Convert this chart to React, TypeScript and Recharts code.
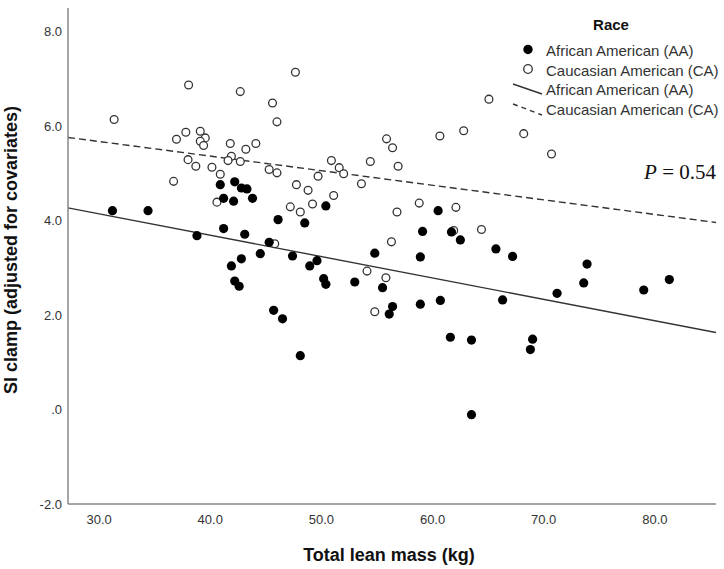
import React from "react";
import {
    ScatterChart,
    Scatter,
    XAxis,
    YAxis,
    ReferenceLine,
} from "recharts";

// Total lean mass (kg) / SI clamp for African American participants
const aaLeanMass = [
    40.9, 42.2, 42.8, 43.3, 41.2, 42.1, 43.8, 31.2, 34.4, 46.1,
    41.2, 43.1, 38.8, 45.3, 44.5, 42.8, 41.9, 42.2, 42.6, 45.7,
    46.5, 50.4, 48.5, 60.5, 59.1, 61.7, 62.5, 65.7, 54.8, 58.9,
    47.4, 67.2, 49.6, 48.95, 50.2, 50.4, 53.0, 55.5, 56.4, 56.1,
    58.9, 60.7, 48.1, 61.6, 63.5, 63.5, 73.9, 73.6, 71.2, 66.3,
    79.0, 81.3, 69.0, 68.8,
];
const aaClamp = [
    4.76, 4.82, 4.69, 4.67, 4.47, 4.41, 4.47, 4.21, 4.21, 4.02,
    3.83, 3.71, 3.68, 3.54, 3.30, 3.19, 3.04, 2.72, 2.61, 2.10,
    1.92, 4.31, 3.95, 4.21, 3.77, 3.76, 3.59, 3.40, 3.31, 3.23,
    3.25, 3.24, 3.15, 3.04, 2.77, 2.65, 2.70, 2.58, 2.18, 2.02,
    2.23, 2.31, 1.14, 1.53, 1.47, -0.11, 3.08, 2.68, 2.46, 2.32,
    2.53, 2.75, 1.49, 1.27,
];

// same for Caucasian American participants
const caLeanMass = [
    31.35, 38.05, 42.7, 45.6, 46.0, 37.8, 39.1, 36.96, 39.55, 39.1,
    39.4, 41.8, 44.1, 43.2, 41.9, 41.6, 42.7, 38.0, 38.7, 40.15,
    45.3, 46.0, 40.9, 36.7, 40.6, 47.2, 45.8, 47.66, 65.07, 62.8,
    60.66, 55.86, 56.4, 50.9, 54.4, 51.6, 52.0, 56.9, 49.7, 53.6,
    47.75, 48.8, 51.1, 49.2, 48.1, 58.8, 62.1, 56.8, 64.4, 61.9,
    56.3, 68.2, 70.7, 54.1, 55.8, 54.8,
];
const caClamp = [
    6.14, 6.87, 6.73, 6.49, 6.09, 5.87, 5.89, 5.72, 5.75, 5.68,
    5.59, 5.63, 5.63, 5.51, 5.36, 5.27, 5.25, 5.29, 5.15, 5.13,
    5.08, 5.01, 4.98, 4.83, 4.39, 4.29, 3.51, 7.14, 6.57, 5.90,
    5.79, 5.73, 5.54, 5.27, 5.25, 5.12, 4.99, 5.15, 4.94, 4.78,
    4.76, 4.64, 4.53, 4.35, 4.18, 4.37, 4.28, 4.18, 3.81, 3.79,
    3.55, 5.84, 5.41, 2.93, 2.79, 2.07,
];

// fit line end points (x at the axis edges)
const fitX = [27.2, 85.5];
const aaFitY = [4.27, 1.63];
const caFitY = [5.76, 3.96];

const xTicks = [30, 40, 50, 60, 70, 80];
const yTicks = [-2, 0, 2, 4, 6, 8];

const legendLabels = [
    "African American (AA)",
    "Caucasian American (CA)",
    "African American (AA)",
    "Caucasian American (CA)",
];

const toPoints = (xs: number[], ys: number[]) => xs.map((x, i) => ({ x, y: ys[i] }));

const aaData = toPoints(aaLeanMass, aaClamp);
const caData = toPoints(caLeanMass, caClamp);
const aaFit = toPoints(fitX, aaFitY);
const caFit = toPoints(fitX, caFitY);

const FONT = '"Liberation Sans", Arial, sans-serif';

const FilledDot = (props: any) => (
    <circle cx={props.cx} cy={props.cy} r={4.6} fill="#000" />
);

const OpenDot = (props: any) => (
    <circle cx={props.cx} cy={props.cy} r={3.9} fill="#fff" stroke="#333" strokeWidth={1.3} />
);

const fmtTick = (v: number) => (v === 0 ? ".0" : v.toFixed(1));

export default function App() {
    return (
        <div style={{ position: "absolute", left: 0, top: 0, width: 724, height: 569, background: "#fff" }}>
            <ScatterChart width={724} height={569} margin={{ top: 8, right: 8, bottom: 0, left: 0 }}>
                <XAxis
                    type="number"
                    dataKey="x"
                    domain={[27.2, 85.5]}
                    ticks={xTicks}
                    tickFormatter={fmtTick}
                    allowDataOverflow
                    height={65}
                    axisLine={{ stroke: "#888", strokeWidth: 1.5 }}
                    tickLine={false}
                    tickSize={6}
                    tickMargin={5}
                    tick={{ fill: "#333", fontSize: 13, fontFamily: FONT }}
                />
                <YAxis
                    type="number"
                    dataKey="y"
                    domain={[-2, 8.5]}
                    ticks={yTicks}
                    tickFormatter={fmtTick}
                    allowDataOverflow
                    width={68}
                    axisLine={{ stroke: "#888", strokeWidth: 1.5 }}
                    tickLine={false}
                    tickSize={4}
                    tickMargin={2}
                    tick={{ fill: "#333", fontSize: 13, fontFamily: FONT }}
                />
                <ReferenceLine segment={aaFit} stroke="#333" strokeWidth={1.4} ifOverflow="hidden" />
                <ReferenceLine
                    segment={caFit}
                    stroke="#333"
                    strokeWidth={1.4}
                    strokeDasharray="7 4"
                    ifOverflow="hidden"
                />
                <Scatter data={caData} shape={OpenDot} isAnimationActive={false} />
                <Scatter data={aaData} shape={FilledDot} isAnimationActive={false} />
            </ScatterChart>

            {/* titles, legend and P value on top of the chart */}
            <svg
                width={724}
                height={569}
                style={{ position: "absolute", left: 0, top: 0, pointerEvents: "none" }}
            >
                <text
                    x={389}
                    y={561}
                    textAnchor="middle"
                    fontFamily={FONT}
                    fontWeight="bold"
                    fontSize={18}
                    fill="#111"
                >
                    Total lean mass (kg)
                </text>
                <text
                    transform="translate(17,250) rotate(-90)"
                    textAnchor="middle"
                    fontFamily={FONT}
                    fontWeight="bold"
                    fontSize={18}
                    fill="#111"
                >
                    SI clamp (adjusted for covariates)
                </text>

                <text x={611} y={30} textAnchor="middle" fontFamily={FONT} fontWeight="bold" fontSize={15} fill="#111">
                    Race
                </text>
                <circle cx={528} cy={49.5} r={4.7} fill="#000" />
                <circle cx={528} cy={69} r={4.3} fill="#fff" stroke="#333" strokeWidth={1.3} />
                <line x1={513} y1={84} x2={542} y2={94} stroke="#333" strokeWidth={1.4} />
                <line x1={513} y1={104} x2={542} y2={115} stroke="#333" strokeWidth={1.4} strokeDasharray="5 4" />
                {legendLabels.map((label, i) => (
                    <text key={i} x={546} y={56 + i * 19.5} fontFamily={FONT} fontSize={15} fill="#333">
                        {label}
                    </text>
                ))}

                <text
                    x={716}
                    y={179}
                    textAnchor="end"
                    fontFamily='"Liberation Serif", "Times New Roman", serif'
                    fontSize={21}
                    fill="#111"
                >
                    <tspan fontStyle="italic">P</tspan> = 0.54
                </text>
            </svg>
        </div>
    );
}
